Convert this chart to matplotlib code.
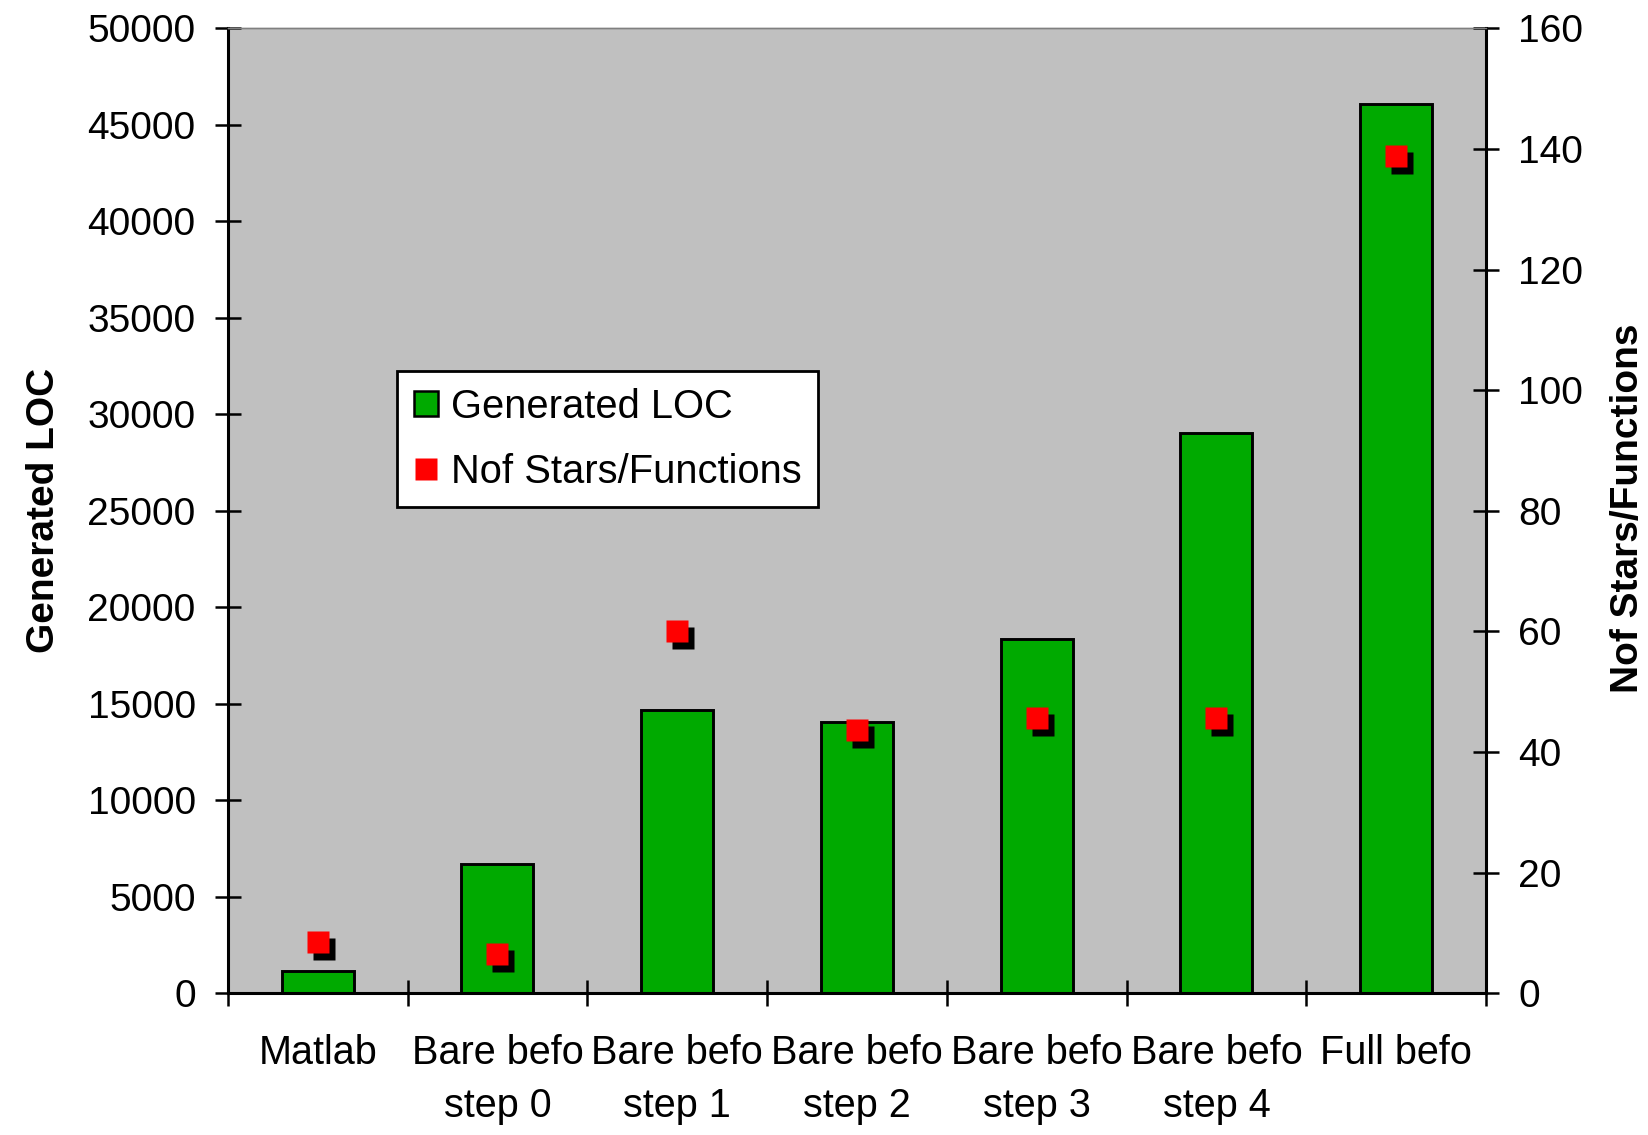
import matplotlib
matplotlib.use('Agg')
import matplotlib.pyplot as plt
import numpy as np
from matplotlib.transforms import offset_copy
from matplotlib.lines import Line2D
from matplotlib.patches import Patch

# Dane: liczba wygenerowanych linii kodu i liczba gwiazd/funkcji
categories = ['Matlab', 'Bare befo\nstep 0', 'Bare befo\nstep 1', 'Bare befo\nstep 2',
              'Bare befo\nstep 3', 'Bare befo\nstep 4', 'Full befo']
generated_loc = [1150, 6700, 14700, 14050, 18350, 29050, 46080]
nof_stars = [8.5, 6.5, 60, 43.7, 45.6, 45.6, 138.8]

plt.rcParams['font.family'] = ['Liberation Sans', 'DejaVu Sans']

bar_green = '#00AA00'
plot_gray = '#C0C0C0'

fig = plt.figure(figsize=(16.48, 11.35), dpi=100)
ax = fig.add_axes([0.1382, 0.1248, 0.7635, 0.8503])
ax.set_facecolor(plot_gray)

x = np.arange(len(categories))
ax.bar(x, generated_loc, width=0.4, color=bar_green, edgecolor='black', linewidth=2.1, zorder=2)

ax.set_xlim(-0.5, len(categories) - 0.5)
ax.set_ylim(0, 50000)
ax.set_yticks(np.arange(0, 50001, 5000))

# Kreski osi X na granicach kategorii, podpisy w środku
ax.set_xticks(np.arange(-0.5, len(categories), 1))
ax.set_xticklabels([])
ax.set_xticks(x, minor=True)
ax.set_xticklabels(categories, minor=True, fontsize=28.5, linespacing=1.5)
ax.tick_params(axis='x', which='minor', length=0, pad=29)
ax.tick_params(axis='both', which='major', direction='inout', length=18.7, width=1.8)
ax.tick_params(axis='y', labelsize=28, pad=13.7)

# Druga oś Y dla liczby gwiazd/funkcji
ax2 = ax.twinx()
ax2.set_ylim(0, 160)
ax2.set_yticks(np.arange(0, 161, 20))
ax2.tick_params(axis='y', direction='inout', length=18.7, width=1.8, labelsize=28, pad=13.7)

shadow = offset_copy(ax2.transData, fig=fig, x=6, y=-7, units='dots')
ax2.plot(x, nof_stars, ls='none', marker='s', ms=16.5, mfc='black', mec='none', transform=shadow, zorder=3)
ax2.plot(x, nof_stars, ls='none', marker='s', ms=16.5, mfc='red', mec='none', zorder=4)

# Ramki
for a in (ax, ax2):
    a.spines['top'].set_color('#808080')
    a.spines['top'].set_linewidth(1.0)
ax.spines['right'].set_visible(False)
ax.spines['left'].set_linewidth(2.2)
ax.spines['bottom'].set_linewidth(2.2)
ax2.spines['right'].set_linewidth(2.2)
ax2.spines['left'].set_visible(False)
ax2.spines['bottom'].set_visible(False)

# Opisy osi
fig.text(44 / 1648, 1 - 510 / 1135, 'Generated LOC', rotation=90, ha='center', va='center',
         fontsize=28, fontweight='bold')
fig.text(1628 / 1648, 1 - 508 / 1135, 'Nof Stars/Functions', rotation=90, ha='center', va='center',
         fontsize=28, fontweight='bold')

# Legenda
handles = [Patch(facecolor=bar_green, edgecolor='black', linewidth=1.8),
           Line2D([], [], ls='none', marker='s', ms=16.5, mfc='red', mec='none')]
leg = ax2.legend(handles, ['Generated LOC', 'Nof Stars/Functions'], loc='upper left',
                 bbox_to_anchor=(0.1345, 0.645), borderaxespad=0, fontsize=28.7,
                 frameon=True, fancybox=False, edgecolor='black', framealpha=1,
                 handlelength=0.6, handleheight=0.6, handletextpad=0.33,
                 borderpad=0.42, labelspacing=0.68)
leg.get_frame().set_linewidth(2)

plt.savefig('out.png', dpi=100)
